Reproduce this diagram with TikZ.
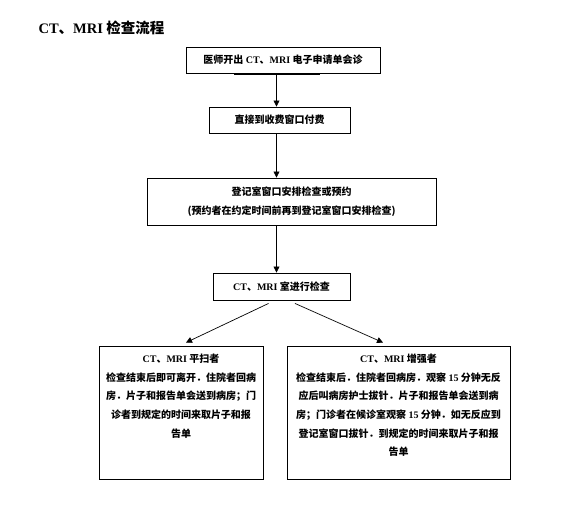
\documentclass[tikz,border=0pt]{standalone}
\usepackage{fontspec}
\setmainfont{Liberation Serif}
\newfontfamily\cjk{Noto Sans CJK SC}
\newfontfamily\lat{Liberation Serif}
\usetikzlibrary{arrows.meta}
\newcommand\ctmri{{\lat CT}、{\lat MRI}}
\begin{document}
\begin{tikzpicture}[x=1pt, y=-1pt,
    box/.style={draw, line width=0.9pt, align=center, inner sep=0pt,
      font=\cjk\bfseries\fontsize{10}{19}\selectfont},
    boxtext/.style={align=center, inner sep=0pt, anchor=north,
      font=\cjk\bfseries\fontsize{10}{18.7}\selectfont},
    flow/.style={line width=0.7pt, -{Triangle[length=6pt,width=6pt]}}]
  \useasboundingbox (0,0) rectangle (573,508);
  % title
  \node[font=\cjk\bfseries\fontsize{14.5}{16}\selectfont, anchor=west]
    (title) at (35,28) {\ctmri\ 检查流程};
  % main steps
  \node[box, minimum width=194pt, minimum height=26pt] (order) at (283,60)
    {医师开出 \ctmri\ 电子申请单会诊};
  \node[box, minimum width=141pt, minimum height=26pt] (pay) at (279.5,120)
    {直接到收费窗口付费};
  \node[box, minimum width=289pt, minimum height=47pt] (book) at (291.5,201.5)
    {登记室窗口安排检查或预约\\({\cjk 预约者在约定时间前再到登记室窗口安排检查})};
  \node[box, minimum width=137pt, minimum height=27pt] (scan) at (281.5,286.5)
    {\ctmri\ 室进行检查};
  % the two outcomes
  \node[box, minimum width=164pt, minimum height=133pt] (plain) at (181,412.5) {};
  \node[box, minimum width=223pt, minimum height=133pt] (contrast) at (398.5,412.5) {};
  \node[boxtext] (plainText) at ([yshift=-8pt]plain.north)
    {\ctmri\ 平扫者\\
     检查结束后即可离开．住院者回病\\
     房．片子和报告单会送到病房；门\\
     诊者到规定的时间来取片子和报\\
     告单};
  \node[boxtext] (contrastText) at ([yshift=-8pt]contrast.north)
    {\ctmri\ 增强者\\
     检查结束后．住院者回病房．观察 {\lat 15} 分钟无反\\
     应后叫病房护士拔针．片子和报告单会送到病\\
     房；门诊者在候诊室观察 {\lat 15} 分钟．如无反应到\\
     登记室窗口拔针．到规定的时间来取片子和报\\
     告单};
  % connectors
  \coordinate (spine) at (276.5,0);
  \draw[line width=1.6pt] ([xshift=-49pt,yshift=-1pt]order.south)
    -- ([xshift=37pt,yshift=-1pt]order.south);
  \draw[flow] (order.south -| spine) -- (pay.north -| spine);
  \draw[flow] (pay.south -| spine) -- (book.north -| spine);
  \draw[flow] (book.south -| spine) -- (scan.north -| spine);
  \draw[flow] ([xshift=-13pt,yshift=-3pt]scan.south) -- ([xshift=5pt,yshift=3pt]plain.north);
  \draw[flow] ([xshift=13.5pt,yshift=-3pt]scan.south) -- ([xshift=-15.5pt,yshift=3pt]contrast.north);
\end{tikzpicture}
\end{document}
